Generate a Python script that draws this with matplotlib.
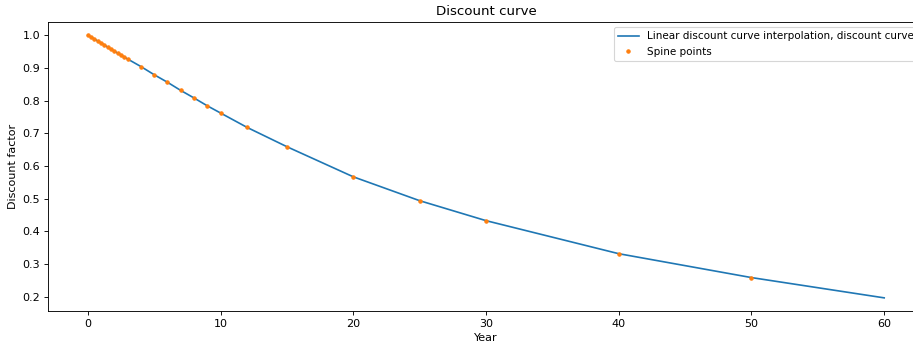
import numpy as np
import matplotlib
matplotlib.use("Agg")
import matplotlib.pyplot as plt

# Spine points of the discount curve (year, discount factor)
spine_years = [0, 0.25, 0.5, 0.75, 1, 1.25, 1.5, 1.75, 2, 2.25, 2.5, 2.75, 3,
               4, 5, 6, 7, 8, 9, 10, 12, 15, 20, 25, 30, 40, 50]
spine_df = [1.000, 0.994, 0.988, 0.982, 0.976, 0.970, 0.963, 0.957, 0.951,
            0.945, 0.939, 0.933, 0.927,
            0.904, 0.879, 0.856, 0.831, 0.808, 0.784, 0.762, 0.718, 0.659,
            0.567, 0.494, 0.433, 0.332, 0.259]

# Curve nodes, extended out to the last year
curve_years = spine_years + [60]
curve_df = spine_df + [0.197]

dpi = 80
fig = plt.figure(figsize=(913 / dpi, 343 / dpi), dpi=dpi)
# axes run past the right edge of the canvas
ax = fig.add_axes([48 / 913, 32 / 343, 876 / 913, 289 / 343])

ax.plot(curve_years, curve_df, label="Linear discount curve interpolation, discount curve")
ax.plot(spine_years, spine_df, ".", label="Spine points")

ax.set_title("Discount curve")
ax.set_xlabel("Year")
ax.set_ylabel("Discount factor")
ax.legend(loc="upper left", bbox_to_anchor=(0.640, 1.0), fontsize=9.4)

fig.savefig("out.png", dpi=dpi)
